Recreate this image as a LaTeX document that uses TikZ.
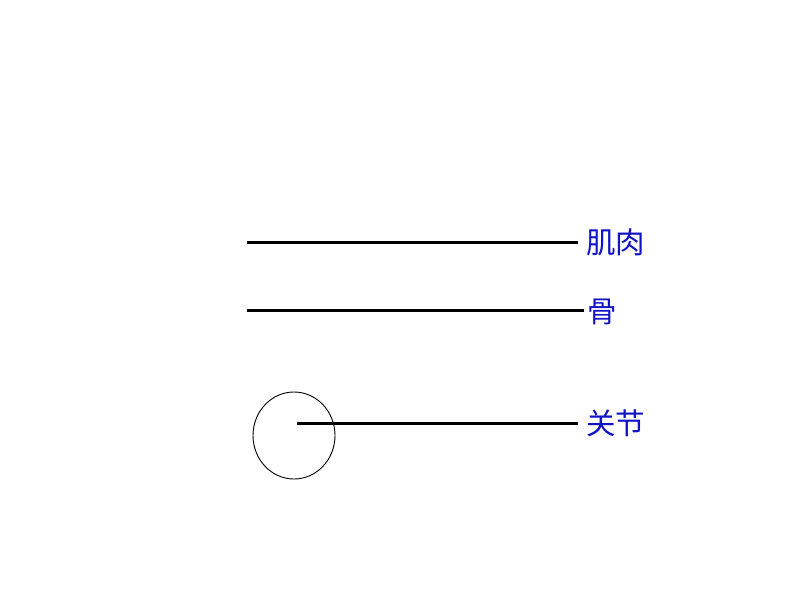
\documentclass[tikz,border=0pt]{standalone}
\usepackage{fontspec}
\usetikzlibrary{shapes.geometric}
\newfontfamily\cjk{Noto Sans CJK SC}
\definecolor{lblue}{RGB}{18,18,200}
\tikzset{
  bar/.style={line width=3pt, draw=black},
  lbl/.style={font=\cjk\fontsize{29.5}{31}\selectfont, text=lblue, anchor=west, inner sep=0pt},
}
\begin{document}
\begin{tikzpicture}[x=1pt,y=-1pt]
\useasboundingbox (0,0) rectangle (794,596);
\fill[white] (0,0) rectangle (794,596);
% row 1
\coordinate (m0) at (247,242);
\coordinate (m1) at (578,242);
\node[lbl] (mt) at (586,242) {肌肉};
\draw[bar] (m0) -- (m1);
% row 2
\coordinate (g0) at (247,310);
\coordinate (g1) at (584,310);
\node[lbl] (gt) at (587,312) {骨};
\draw[bar] (g0) -- (g1);
% row 3
\node[draw=black, line width=0.9pt, ellipse, minimum width=82pt, minimum height=87pt, inner sep=0pt] (c) at (294,435.5) {};
\coordinate (j0) at (297,423);
\coordinate (j1) at (578,423);
\node[lbl] (jt) at (586,423) {关节};
\draw[bar] (j0) -- (j1);
\end{tikzpicture}
\end{document}
